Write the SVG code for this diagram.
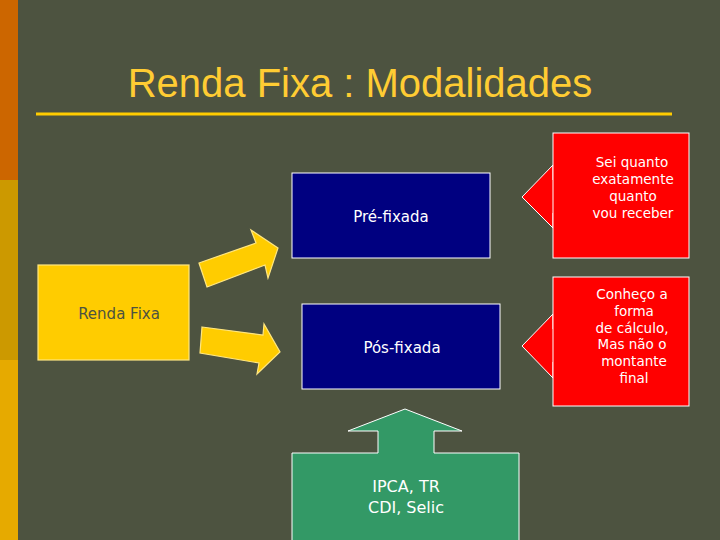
<svg xmlns="http://www.w3.org/2000/svg" width="720" height="540" viewBox="0 0 720 540">
<style>
text{font-family:"DejaVu Sans",sans-serif;font-size:15px;text-anchor:middle}
.y{fill:#FFCC00;stroke:#FFE680;stroke-width:1.2}
.b{fill:#000080;stroke:#fff;stroke-width:1}
.r{fill:#FF0000;stroke:#fff;stroke-width:1}
</style>
<rect width="720" height="540" fill="#4D5340"/>
<rect x="0" y="0" width="18" height="180" fill="#CC6600"/>
<rect x="0" y="180" width="18" height="180" fill="#CC9900"/>
<rect x="0" y="360" width="18" height="180" fill="#E6AA00"/>
<text x="360" y="97" style="font-family:'Liberation Sans',sans-serif;font-size:40px" fill="#FFCC33">Renda Fixa : Modalidades</text>
<line x1="36" y1="114" x2="672" y2="114" stroke="#FFCC00" stroke-width="3"/>
<g id="connectors">
<polygon class="y" points="199,263 256,243 251,230 278,248 268,278 265,265 207,287"/>
<polygon class="y" points="202,327 263,335 264,324 280,352 257,374 259,363 200,353"/>
<polygon class="r" points="522,197 553,165 553,180 560,180 560,213 553,213 553,228"/>
<polygon class="r" points="522,346 553,314 553,329 560,329 560,362 553,362 553,378"/>
<polygon fill="#339966" stroke="#fff" stroke-width="1" points="405,409 462,431 434,431 434,453 519,453 519,545 292,545 292,453 378,453 378,431 348,431"/>
</g>
<g id="rendafixa"><rect class="y" x="38" y="265" width="151" height="95" stroke="#FFE680"/><text x="119" y="319" fill="#4D5340">Renda Fixa</text></g>
<g id="pre"><rect class="b" x="292" y="173" width="198" height="85"/><text x="391" y="222" fill="#fff">Pré-fixada</text></g>
<g id="pos"><rect class="b" x="302" y="304" width="198" height="85"/><text x="402" y="353" fill="#fff">Pós-fixada</text></g>
<g id="sei"><rect class="r" x="553" y="133" width="136" height="125"/><text fill="#fff" style="font-size:13.5px"><tspan x="632" y="167">Sei quanto</tspan><tspan x="633" y="184">exatamente</tspan><tspan x="633" y="201">quanto</tspan><tspan x="633" y="218">vou receber</tspan></text></g>
<g id="conheco"><rect class="r" x="553" y="277" width="136" height="129"/><text fill="#fff" style="font-size:13.5px"><tspan x="632" y="299">Conheço a</tspan><tspan x="634" y="316">forma</tspan><tspan x="632" y="333">de cálculo,</tspan><tspan x="632" y="349">Mas não o</tspan><tspan x="634" y="366">montante</tspan><tspan x="634" y="383">final</tspan></text></g>
<g id="indices"><text fill="#fff" style="font-size:16px"><tspan x="406" y="492">IPCA, TR</tspan><tspan x="406" y="513">CDI, Selic</tspan></text></g>
</svg>
